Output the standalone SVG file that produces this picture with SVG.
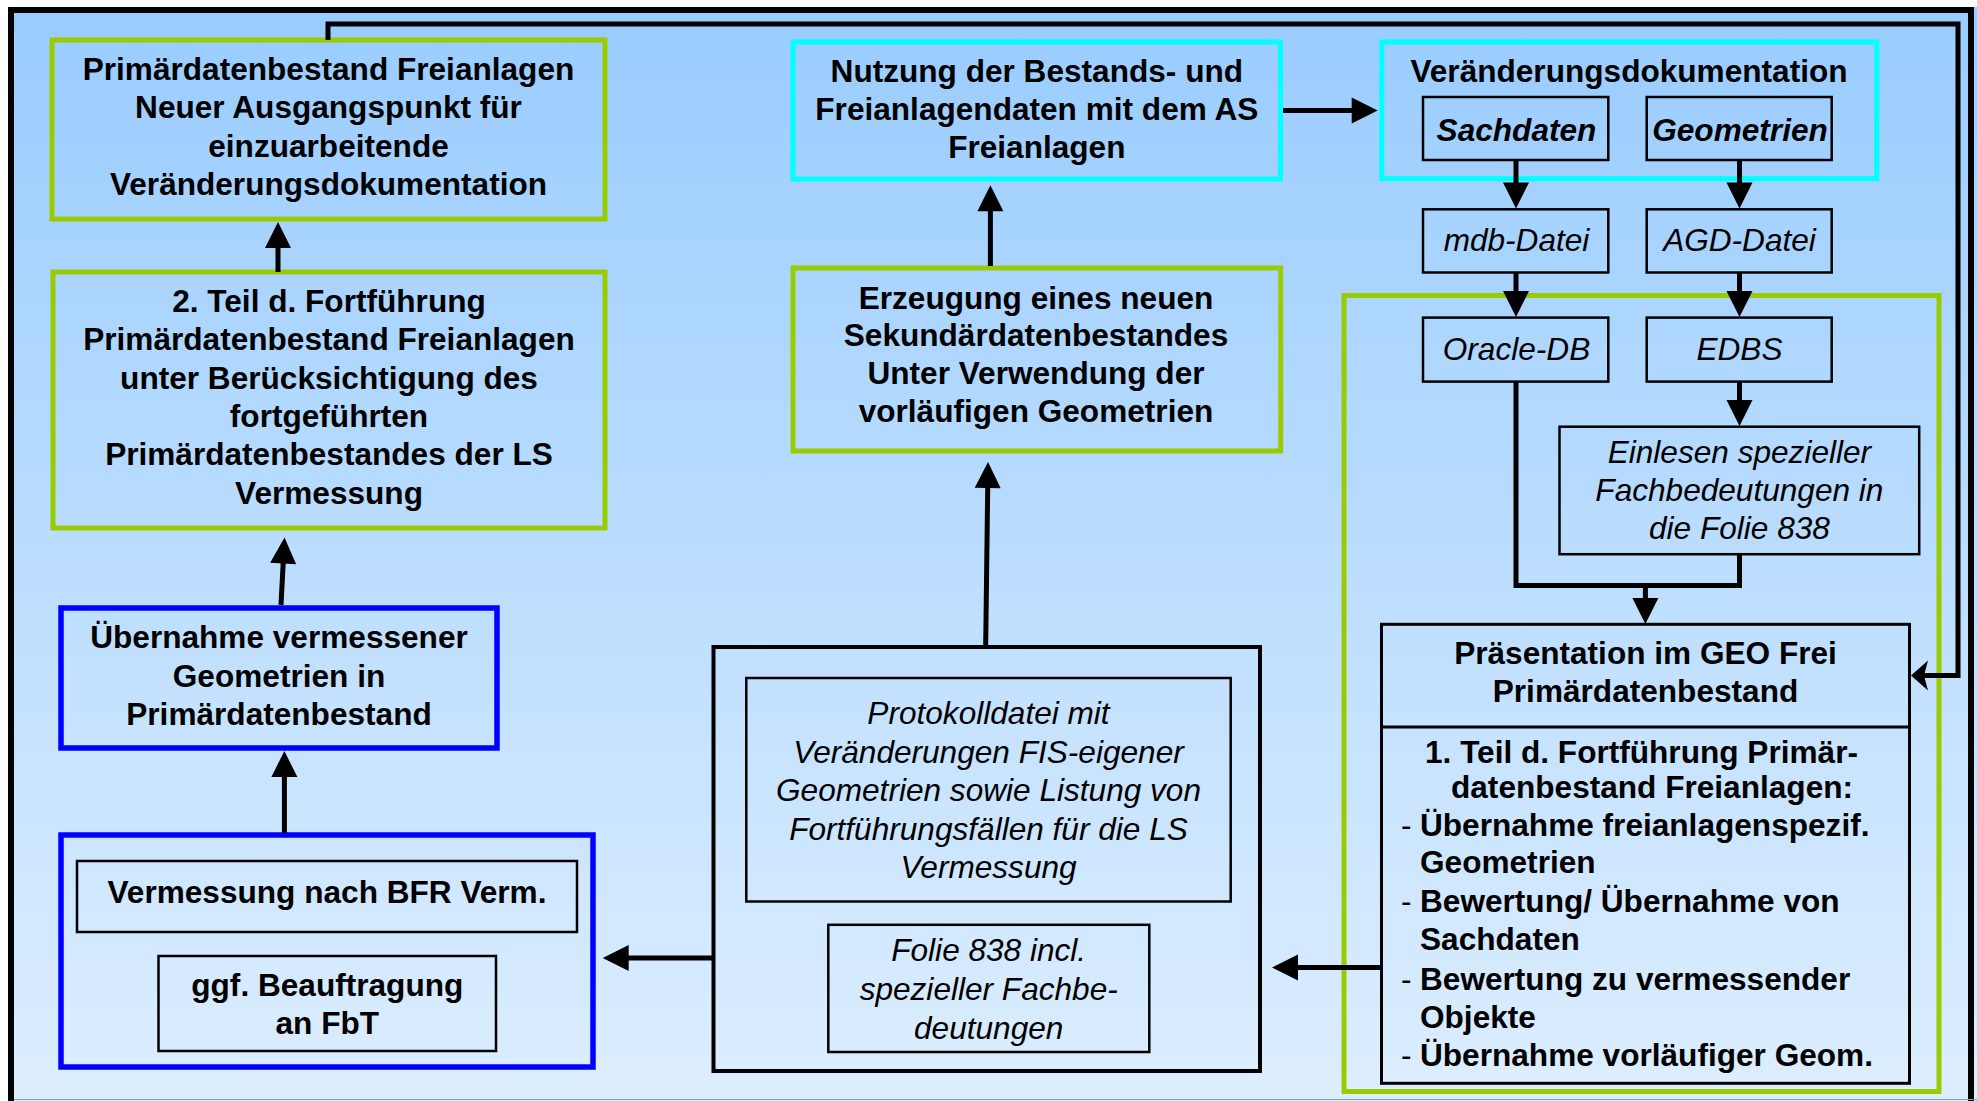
<svg xmlns="http://www.w3.org/2000/svg" width="1977" height="1101" viewBox="0 0 1977 1101">
<defs>
<linearGradient id="bg" x1="0" y1="0" x2="0" y2="1">
<stop offset="0" stop-color="#99CCFF"/>
<stop offset="1" stop-color="#DDEEFF"/>
</linearGradient>
<marker id="ah" markerUnits="userSpaceOnUse" markerWidth="26" markerHeight="26" refX="16" refY="13" orient="auto" overflow="visible">
<path d="M0,0 L26,13 L0,26 z" fill="#000"/>
</marker>
<marker id="ah2" markerUnits="userSpaceOnUse" markerWidth="18" markerHeight="30" refX="11" refY="15" orient="auto" overflow="visible">
<path d="M0,0 L17,15 L0,30 L4,15 z" fill="#000"/>
</marker>
<style>
.g{fill:none;stroke:#99CC00;stroke-width:5}
.c{fill:none;stroke:#00FFFF;stroke-width:5}
.b{fill:none;stroke:#0000FF;stroke-width:5.5}
.k{fill:none;stroke:#000;stroke-width:2.5}
.t{font-family:"Liberation Sans",Arial,Helvetica,sans-serif;font-size:31.6px;fill:#000;text-anchor:middle}
.bd{font-weight:bold}
.it{font-style:italic}
.l{text-anchor:start}
.n{font-weight:normal}
.cn path{fill:none;stroke:#000;stroke-width:5;stroke-linejoin:miter;stroke-linecap:butt}
</style>
</defs>
<rect x="0" y="0" width="1977" height="1101" fill="#FFFFFF"/>
<rect x="8" y="7" width="1969" height="1094" fill="url(#bg)"/>
<rect x="11" y="10" width="1960" height="1200" fill="none" stroke="#000" stroke-width="6"/>
<line x1="14" y1="1099.5" x2="1977" y2="1099.5" stroke="#8A9AAA" stroke-width="1"/>

<g id="container-gruen">
<rect class="g" x="1344" y="295.5" width="595" height="796"/>
</g>

<g id="primaerdatenbestand">
<rect class="g" x="52" y="40" width="553" height="179"/>
<text class="t bd"><tspan x="328.5" y="79.5">Primärdatenbestand Freianlagen</tspan><tspan x="328.5" y="118">Neuer Ausgangspunkt für</tspan><tspan x="328.5" y="157">einzuarbeitende</tspan><tspan x="328.5" y="195">Veränderungsdokumentation</tspan></text>
</g>

<g id="teil2">
<rect class="g" x="53" y="272" width="552" height="256"/>
<text class="t bd"><tspan x="329" y="312">2. Teil d. Fortführung</tspan><tspan x="329" y="350">Primärdatenbestand Freianlagen</tspan><tspan x="329" y="388.5">unter Berücksichtigung des</tspan><tspan x="329" y="427">fortgeführten</tspan><tspan x="329" y="465">Primärdatenbestandes der LS</tspan><tspan x="329" y="503.5">Vermessung</tspan></text>
</g>

<g id="uebernahme">
<rect class="b" x="61" y="608" width="436" height="140"/>
<text class="t bd"><tspan x="279" y="648">Übernahme vermessener</tspan><tspan x="279" y="686.5">Geometrien in</tspan><tspan x="279" y="724.5">Primärdatenbestand</tspan></text>
</g>

<g id="vermessung">
<rect class="b" x="61" y="835" width="532" height="232" stroke-width="6"/>
<rect class="k" x="77" y="861" width="500" height="71"/>
<text class="t bd" x="327" y="903">Vermessung nach BFR Verm.</text>
<rect class="k" x="158.5" y="956" width="337.5" height="95"/>
<text class="t bd"><tspan x="327.3" y="996">ggf. Beauftragung</tspan><tspan x="327.3" y="1034">an FbT</tspan></text>
</g>

<g id="protokoll">
<rect x="713.5" y="647" width="546.5" height="424" fill="none" stroke="#000" stroke-width="4"/>
<rect class="k" x="746.3" y="678" width="484.4" height="223.5"/>
<text class="t it"><tspan x="988.5" y="724">Protokolldatei mit</tspan><tspan x="988.5" y="762.5">Veränderungen FIS-eigener</tspan><tspan x="988.5" y="801">Geometrien sowie Listung von</tspan><tspan x="988.5" y="840">Fortführungsfällen für die LS</tspan><tspan x="988.5" y="878">Vermessung</tspan></text>
<rect class="k" x="828.3" y="924.8" width="321" height="127.2"/>
<text class="t it"><tspan x="988.7" y="961">Folie 838 incl.</tspan><tspan x="988.7" y="1000">spezieller Fachbe-</tspan><tspan x="988.7" y="1038.5">deutungen</tspan></text>
</g>

<g id="erzeugung">
<rect class="g" x="793" y="268" width="487.7" height="183"/>
<text class="t bd"><tspan x="1036" y="308.5">Erzeugung eines neuen</tspan><tspan x="1036" y="346">Sekundärdatenbestandes</tspan><tspan x="1036" y="383.5">Unter Verwendung der</tspan><tspan x="1036" y="421.5">vorläufigen Geometrien</tspan></text>
</g>

<g id="nutzung">
<rect class="c" x="793" y="42" width="487.5" height="137"/>
<text class="t bd"><tspan x="1036.8" y="82">Nutzung der Bestands- und</tspan><tspan x="1036.8" y="119.5">Freianlagendaten mit dem AS</tspan><tspan x="1036.8" y="157.5">Freianlagen</tspan></text>
</g>

<g id="veraenderungsdokumentation">
<rect class="c" x="1381.8" y="42" width="495" height="136.7"/>
<text class="t bd" x="1629" y="81.5">Veränderungsdokumentation</text>
</g>

<g id="sachdaten">
<rect class="k" x="1423" y="97" width="185.3" height="63"/>
<text class="t bd it" x="1516.5" y="141">Sachdaten</text>
</g>

<g id="geometrien">
<rect class="k" x="1646.7" y="97" width="185" height="63"/>
<text class="t bd it" x="1740" y="141">Geometrien</text>
</g>

<g id="mdb-datei">
<rect class="k" x="1423" y="209.3" width="185.3" height="63.2"/>
<text class="t it" x="1516.5" y="251">mdb-Datei</text>
</g>

<g id="agd-datei">
<rect class="k" x="1646.7" y="209.3" width="185" height="63.2"/>
<text class="t it" x="1739.5" y="251">AGD-Datei</text>
</g>

<g id="oracle-db">
<rect class="k" x="1423" y="317.6" width="185.3" height="64"/>
<text class="t it" x="1516.5" y="360">Oracle-DB</text>
</g>

<g id="edbs">
<rect class="k" x="1646.7" y="317.6" width="185" height="64"/>
<text class="t it" x="1739.5" y="360">EDBS</text>
</g>

<g id="einlesen">
<rect class="k" x="1559.5" y="426.7" width="359.7" height="127.5"/>
<text class="t it"><tspan x="1739.4" y="462.5">Einlesen spezieller</tspan><tspan x="1739.4" y="500.5">Fachbedeutungen in</tspan><tspan x="1739.4" y="539">die Folie 838</tspan></text>
</g>

<g id="praesentation">
<rect x="1381.5" y="624.3" width="528" height="459" fill="none" stroke="#000" stroke-width="3"/>
<line x1="1381.5" y1="727" x2="1909.5" y2="727" stroke="#000" stroke-width="3"/>
<text class="t bd"><tspan x="1645.5" y="663.5">Präsentation im GEO Frei</tspan><tspan x="1645.5" y="701.5">Primärdatenbestand</tspan></text>
<text class="t bd l"><tspan x="1425" y="763">1. Teil d. Fortführung Primär-</tspan><tspan x="1451" y="798">datenbestand Freianlagen:</tspan></text>
<text class="t n l"><tspan x="1401" y="836">-</tspan><tspan x="1401" y="912">-</tspan><tspan x="1401" y="989.5">-</tspan><tspan x="1401" y="1065.5">-</tspan></text>
<text class="t bd l"><tspan x="1420" y="836">Übernahme freianlagenspezif.</tspan><tspan x="1420" y="873">Geometrien</tspan><tspan x="1420" y="912">Bewertung/ Übernahme von</tspan><tspan x="1420" y="950">Sachdaten</tspan><tspan x="1420" y="989.5">Bewertung zu vermessender</tspan><tspan x="1420" y="1027.5">Objekte</tspan><tspan x="1420" y="1065.5">Übernahme vorläufiger Geom.</tspan></text>
</g>

<g id="connectors" class="cn">
<path d="M278,272 V232" marker-end="url(#ah)"/>
<path d="M281,605 L284,547.5" marker-end="url(#ah)"/>
<path d="M284.4,833 V761" marker-end="url(#ah)"/>
<path d="M712,958 H612.7" marker-end="url(#ah)"/>
<path d="M985.7,645 L987.9,472" marker-end="url(#ah)"/>
<path d="M990.4,266 V195.3" marker-end="url(#ah)"/>
<path d="M1283,110.5 H1367.7" marker-end="url(#ah)"/>
<path d="M1516,160 V198.6" marker-end="url(#ah)"/>
<path d="M1739.5,160 V198.6" marker-end="url(#ah)"/>
<path d="M1516,272.5 V307" marker-end="url(#ah)"/>
<path d="M1739.5,272.5 V307" marker-end="url(#ah)"/>
<path d="M1739.5,381.6 V416" marker-end="url(#ah)"/>
<path d="M1516,381.6 V585.5 H1739.5 V554.2"/>
<path d="M1645.4,585.5 V614" marker-end="url(#ah)"/>
<path d="M1381.5,967.5 H1282" marker-end="url(#ah)"/>
<path d="M328,40 V24 H1958 V675.5 H1917" stroke-width="6" marker-end="url(#ah2)"/>
</g>
</svg>
